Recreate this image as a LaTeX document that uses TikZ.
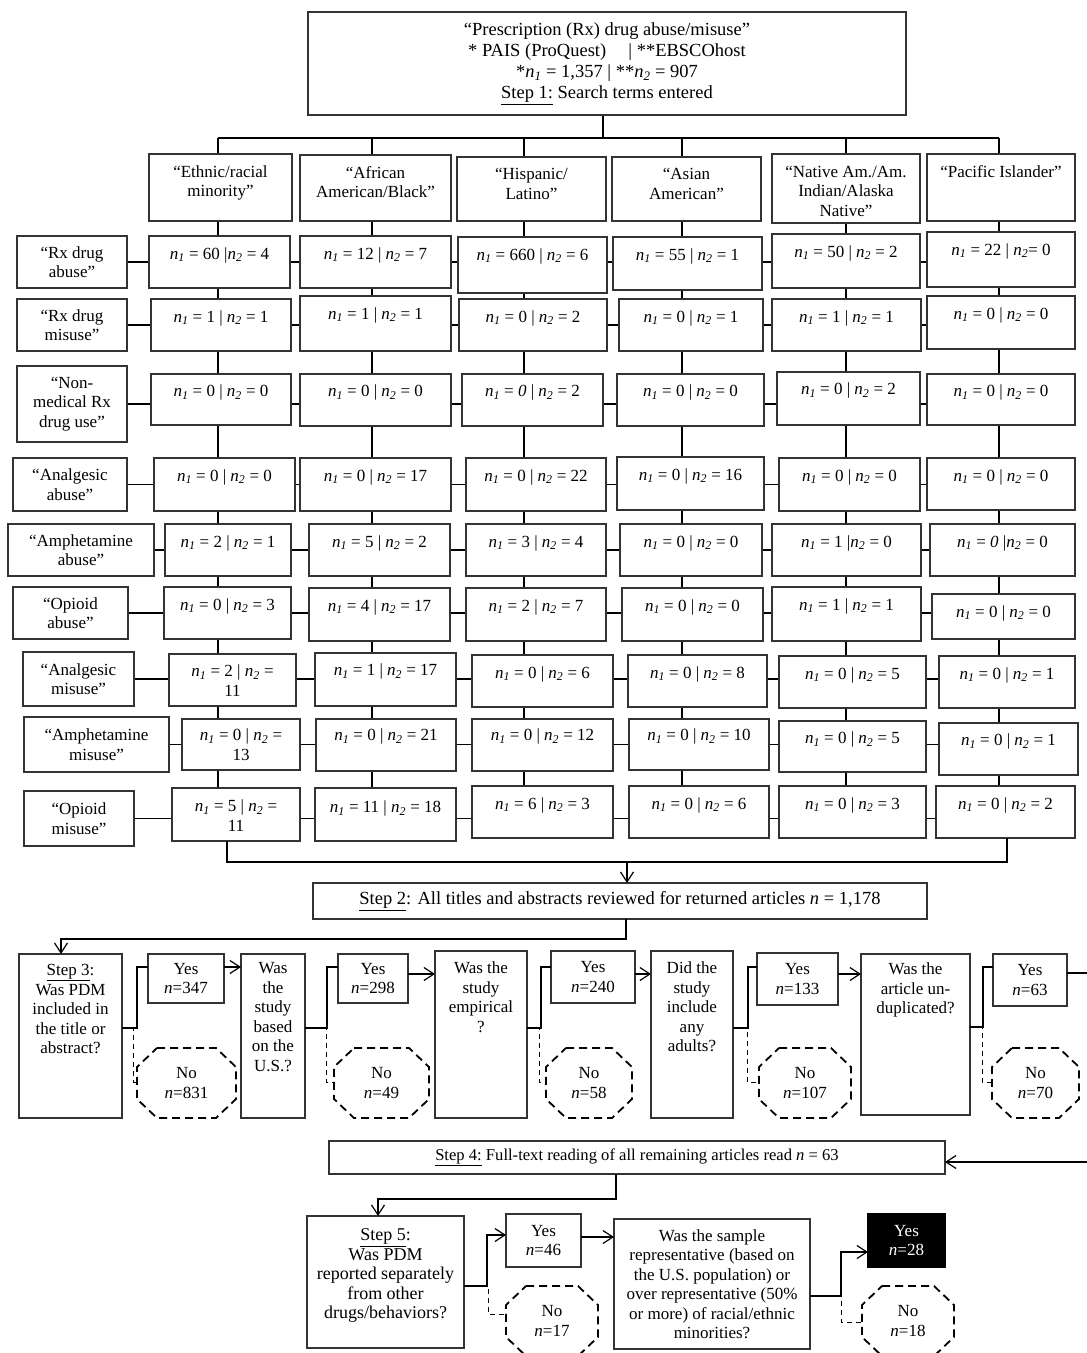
\documentclass[tikz,border=0pt]{standalone}
\usepackage{fontspec}
\setmainfont{Liberation Serif}
\usetikzlibrary{arrows.meta,calc,backgrounds}
\newcommand\nn[1]{\textit{n}\textsubscript{\textit{#1}}}
\newcommand\yn[1]{\textit{n}=#1}
\tikzset{
  bx/.style={draw=black!80, line width=1.1pt, fill=white, inner sep=0pt, outer sep=0pt, font=\fontsize{17}{19.5}\selectfont},
  ocnode/.style={inner sep=0pt, outer sep=0pt, font=\fontsize{17}{19.5}\selectfont},
  ln/.style={line width=1.2pt, draw=black},
  elb/.style={line width=1.8pt, draw=black},
  dl/.style={line width=1pt, dash pattern=on 5pt off 4pt},
  octl/.style={line width=1.8pt, dash pattern=on 8pt off 5pt},
  arr/.style={-{Straight Barb[length=10pt,width=13pt,line width=1.2pt]}},
}
% top-aligned box: [opts]{name}{x1}{y1}{x2}{y2}{pad}{text}
\newcommand\tbox[8][]{%
  \pgfmathsetlengthmacro\bw{(#5)-(#3)}%
  \pgfmathsetlengthmacro\bh{(#6)-(#4)}%
  \node[bx,anchor=north west,#1] (#2) at (#3,-#4) {\parbox[b][\bh][t]{\bw}{\centering\vspace*{#7pt}\strut#8\par}};}
% centred box: [opts]{name}{x1}{y1}{x2}{y2}{text}
\newcommand\cbox[7][]{%
  \pgfmathsetlengthmacro\bw{(#5)-(#3)}%
  \pgfmathsetlengthmacro\bh{(#6)-(#4)}%
  \node[bx,anchor=north west,#1] (#2) at (#3,-#4) {\parbox[b][\bh][c]{\bw}{\centering#7\par}};}
% dashed octagon: {name}{x1}{y1}{x2}{y2}{text}
\newcommand\octo[6]{%
  \pgfmathsetlengthmacro\bw{(#4)-(#2)}%
  \pgfmathsetlengthmacro\bh{(#5)-(#3)}%
  \node[ocnode,anchor=north west] (#1) at (#2,-#3) {\parbox[b][\bh][c]{\bw}{\centering#6\par}};
  \draw[octl] ($(#1.north west)+(20,0)$) -- ($(#1.north east)+(-20,0)$) -- ($(#1.north east)+(0,-19)$)
    -- ($(#1.south east)+(0,19)$) -- ($(#1.south east)+(-20,0)$) -- ($(#1.south west)+(20,0)$)
    -- ($(#1.south west)+(0,19)$) -- ($(#1.north west)+(0,-19)$) -- cycle;}
\begin{document}
\begin{tikzpicture}[x=1pt,y=1pt]
\useasboundingbox (0,0) rectangle (1087,-1353);
\clip (0,0) rectangle (1087,-1353);

% ---------- top ----------
\cbox[font=\fontsize{18.5}{21.3}\selectfont]{top}{308}{12}{906}{115}{“Prescription (Rx) drug abuse/misuse”\\{*} PAIS (ProQuest)\hspace{1.2em}| **EBSCOhost\\{*}\nn{1} = 1,357 | **\nn{2} = 907\\\underline{Step 1:} Search terms entered}

\coordinate (bus) at (603,-138);
\coordinate (col1) at (218,-138);
\coordinate (col2) at (372,-138);
\coordinate (col3) at (524,-138);
\coordinate (col4) at (682,-138);
\coordinate (col5) at (846,-138);
\coordinate (col6) at (999,-138);

% ---------- headers ----------
\tbox{h1}{149}{154}{292}{221}{9.5}{“Ethnic/racial\\minority”}
\tbox{h2}{300}{155}{451}{221}{9.5}{“African\\American/Black”}
\tbox{h3}{457}{157}{606}{221}{9}{“Hispanic/\\Latino”}
\tbox{h4}{612}{157}{761}{221}{9}{“Asian\\American”}
\tbox{h5}{772}{154}{920}{223}{9.5}{“Native Am./Am.\\Indian/Alaska\\Native”}
\tbox{h6}{927}{154}{1075}{221}{9.5}{“Pacific Islander”}

% ---------- row labels ----------
\cbox{r1l}{17}{236}{127}{288}{“Rx drug\\abuse”}
\cbox{r2l}{17}{299}{127}{351}{“Rx drug\\misuse”}
\cbox{r3l}{17}{366}{127}{442}{“Non-\\medical Rx\\drug use”}
\cbox{r4l}{13}{458}{127}{511}{“Analgesic\\abuse”}
\cbox{r5l}{8}{524}{154}{576}{“Amphetamine\\abuse”}
\cbox{r6l}{13}{587}{128}{639}{“Opioid\\abuse”}
\cbox{r7l}{23}{652}{134}{706}{“Analgesic\\misuse”}
\cbox{r8l}{24}{717}{169}{772}{“Amphetamine\\misuse”}
\cbox{r9l}{24}{791}{134}{846}{“Opioid\\misuse”}

% ---------- cells ----------
\tbox{r1c1}{149}{236}{290}{288}{9.5}{\nn{1} = 60 |\nn{2} = 4}
\tbox{r1c2}{300}{236}{451}{288}{9.5}{\nn{1} = 12 | \nn{2} = 7}
\tbox{r1c3}{458}{237}{607}{293}{9.5}{\nn{1} = 660 | \nn{2} = 6}
\tbox{r1c4}{613}{237}{762}{290}{9.5}{\nn{1} = 55 | \nn{2} = 1}
\tbox{r1c5}{772}{234}{920}{288}{9.5}{\nn{1} = 50 | \nn{2} = 2}
\tbox{r1c6}{927}{232}{1075}{287}{9.5}{\nn{1} = 22 | \nn{2}= 0}

\tbox{r2c1}{151}{299}{291}{351}{9.5}{\nn{1} = 1 | \nn{2} = 1}
\tbox{r2c2}{300}{296}{451}{351}{9.5}{\nn{1} = 1 | \nn{2} = 1}
\tbox{r2c3}{459}{299}{607}{351}{9.5}{\nn{1} = 0 | \nn{2} = 2}
\tbox{r2c4}{619}{299}{763}{351}{9.5}{\nn{1} = 0 | \nn{2} = 1}
\tbox{r2c5}{772}{299}{921}{351}{9.5}{\nn{1} = 1 | \nn{2} = 1}
\tbox{r2c6}{927}{296}{1075}{349}{9.5}{\nn{1} = 0 | \nn{2} = 0}

\tbox{r3c1}{151}{374}{291}{425}{9}{\nn{1} = 0 | \nn{2} = 0}
\tbox{r3c2}{300}{374}{451}{426}{9}{\nn{1} = 0 | \nn{2} = 0}
\tbox{r3c3}{462}{374}{603}{426}{9}{\nn{1} = \textit{0} | \nn{2} = 2}
\tbox{r3c4}{617}{374}{764}{426}{9}{\nn{1} = 0 | \nn{2} = 0}
\tbox{r3c5}{777}{372}{920}{425}{9}{\nn{1} = 0 | \nn{2} = 2}
\tbox{r3c6}{927}{374}{1075}{425}{9}{\nn{1} = 0 | \nn{2} = 0}

\tbox{r4c1}{154}{458}{295}{511}{9.5}{\nn{1} = 0 | \nn{2} = 0}
\tbox{r4c2}{300}{458}{451}{511}{9.5}{\nn{1} = 0 | \nn{2} = 17}
\tbox{r4c3}{466}{458}{606}{511}{9.5}{\nn{1} = 0 | \nn{2} = 22}
\tbox{r4c4}{617}{457}{764}{510}{9.5}{\nn{1} = 0 | \nn{2} = 16}
\tbox{r4c5}{779}{458}{920}{511}{9.5}{\nn{1} = 0 | \nn{2} = 0}
\tbox{r4c6}{927}{458}{1075}{510}{9.5}{\nn{1} = 0 | \nn{2} = 0}

\tbox{r5c1}{165}{524}{291}{576}{9.5}{\nn{1} = 2 | \nn{2} = 1}
\tbox{r5c2}{309}{524}{450}{576}{9.5}{\nn{1} = 5 | \nn{2} = 2}
\tbox{r5c3}{466}{524}{606}{576}{9.5}{\nn{1} = 3 | \nn{2} = 4}
\tbox{r5c4}{620}{524}{762}{576}{9.5}{\nn{1} = 0 | \nn{2} = 0}
\tbox{r5c5}{772}{524}{921}{576}{9.5}{\nn{1} = 1 |\nn{2} = 0}
\tbox{r5c6}{930}{524}{1075}{576}{9.5}{\nn{1} = \textit{0} |\nn{2} = 0}

\tbox{r6c1}{164}{587}{291}{639}{9.5}{\nn{1} = 0 | \nn{2} = 3}
\tbox{r6c2}{309}{588}{450}{641}{9.5}{\nn{1} = 4 | \nn{2} = 17}
\tbox{r6c3}{466}{588}{606}{641}{9.5}{\nn{1} = 2 | \nn{2} = 7}
\tbox{r6c4}{622}{588}{763}{641}{9.5}{\nn{1} = 0 | \nn{2} = 0}
\tbox{r6c5}{772}{587}{921}{641}{9.5}{\nn{1} = 1 | \nn{2} = 1}
\tbox{r6c6}{932}{594}{1075}{639}{9.5}{\nn{1} = 0 | \nn{2} = 0}

\tbox{r7c1}{169}{654}{296}{706}{9}{\nn{1} = 2 | \nn{2} =\\11}
\tbox{r7c2}{315}{653}{456}{706}{9}{\nn{1} = 1 | \nn{2} = 17}
\tbox{r7c3}{472}{655}{613}{707}{9.5}{\nn{1} = 0 | \nn{2} = 6}
\tbox{r7c4}{628}{655}{767}{707}{9.5}{\nn{1} = 0 | \nn{2} = 8}
\tbox{r7c5}{779}{656}{926}{708}{9.5}{\nn{1} = 0 | \nn{2} = 5}
\tbox{r7c6}{939}{656}{1075}{708}{9.5}{\nn{1} = 0 | \nn{2} = 1}

\tbox{r8c1}{182}{719}{300}{770}{8}{\nn{1} = 0 | \nn{2} =\\13}
\tbox{r8c2}{316}{719}{456}{771}{8}{\nn{1} = 0 | \nn{2} = 21}
\tbox{r8c3}{472}{719}{613}{771}{8}{\nn{1} = 0 | \nn{2} = 12}
\tbox{r8c4}{629}{719}{769}{770}{8}{\nn{1} = 0 | \nn{2} = 10}
\tbox{r8c5}{779}{721}{926}{772}{9}{\nn{1} = 0 | \nn{2} = 5}
\tbox{r8c6}{939}{723}{1078}{775}{9}{\nn{1} = 0 | \nn{2} = 1}

\tbox{r9c1}{172}{788}{300}{841}{10}{\nn{1} = 5 | \nn{2} =\\11}
\tbox{r9c2}{315}{788}{456}{841}{11}{\nn{1} = 11 | \nn{2} = 18}
\tbox{r9c3}{472}{786}{613}{838}{9.5}{\nn{1} = 6 | \nn{2} = 3}
\tbox{r9c4}{629}{786}{769}{838}{9.5}{\nn{1} = 0 | \nn{2} = 6}
\tbox{r9c5}{779}{786}{926}{838}{9.5}{\nn{1} = 0 | \nn{2} = 3}
\tbox{r9c6}{936}{786}{1075}{838}{9.5}{\nn{1} = 0 | \nn{2} = 2}

\begin{pgfonlayer}{background}
  \fill[white] (0,0) rectangle (1087,-1353);
  \draw[ln] (top.south -| bus) -- (bus);
  \draw[ln] (col1) -- (col6);
  \foreach \k in {1,...,6} {
    \draw[ln] (col\k) -- (col\k |- r9c\k.north);
  }
  \foreach \r in {1,...,9} {
    \draw[ln] (r\r l.east) -- (r\r l.east -| r\r c6.west);
  }
\end{pgfonlayer}

% ---------- bracket to step 2 ----------
\coordinate (bl) at (227,-862);
\coordinate (br) at (1007,-862);
\coordinate (bm) at (627,-862);
\draw[ln] (r9c1.south -| bl) -- (bl) -- (br) -- (r9c6.south -| br);

\cbox[font=\fontsize{18.5}{21}\selectfont]{s2}{313}{883}{927}{919}{\underline{Step 2}: All titles and abstracts reviewed for returned articles \textit{n} = 1,178}
\draw[ln,arr] (bm) -- (bm |- s2.north);

% ---------- step 3 row ----------
\tbox{s3}{19}{954}{122}{1118}{8}{\underline{Step 3}:\\Was PDM\\included in\\the title or\\abstract?}
\cbox{y1}{148}{954}{224}{1003}{Yes\\\yn{347}}
\tbox{d2}{241}{954}{305}{1118}{6}{Was\\the\\study\\based\\on the\\U.S.?}
\octo{n1}{137}{1048}{236}{1118}{No\\\yn{831}}
\cbox{y2}{338}{954}{408}{1003}{Yes\\\yn{298}}
\tbox{d3}{435}{951}{527}{1118}{9}{Was the\\study\\empirical\\?}
\octo{n2}{334}{1048}{429}{1118}{No\\\yn{49}}
\cbox{y3}{551}{951}{635}{1003}{Yes\\\yn{240}}
\tbox{d4}{651}{951}{733}{1118}{9}{Did the\\study\\include\\any\\adults?}
\octo{n3}{546}{1048}{632}{1118}{No\\\yn{58}}
\cbox{y4}{757}{953}{838}{1005}{Yes\\\yn{133}}
\tbox{d5}{861}{954}{970}{1115}{7}{Was the\\article un-\\duplicated?}
\octo{n4}{759}{1048}{851}{1118}{No\\\yn{107}}
\cbox{y5}{993}{954}{1067}{1006}{Yes\\\yn{63}}
\octo{n5}{992}{1048}{1079}{1118}{No\\\yn{70}}

\coordinate (s2o) at (626,-939);
\coordinate (s3i) at (61,-939);
\draw[ln,arr] (s2.south -| s2o) -- (s2o) -- (s3i) -- (s3i |- s3.north);

\draw[dl] (s3.east |- 0,-1028) -| (133,-1082) -- (n1.west |- 0,-1082);
\draw[elb] (s3.east |- 0,-1028) -- (137,-1028) |- (y1.west |- 0,-967);
\draw[ln,arr] (y1.east |- 0,-967) -- (d2.west |- 0,-967);

\draw[dl] (d2.east |- 0,-1028) -| (326,-1082) -- (n2.west |- 0,-1082);
\draw[elb] (d2.east |- 0,-1028) -- (327,-1028) |- (y2.west |- 0,-967);
\draw[ln,arr] (y2.east |- 0,-974) -- (d3.west |- 0,-974);

\draw[dl] (d3.east |- 0,-1028) -| (539,-1082) -- (n3.west |- 0,-1082);
\draw[elb] (d3.east |- 0,-1028) -- (541,-1028) |- (y3.west |- 0,-967);
\draw[ln,arr] (y3.east |- 0,-974) -- (d4.west |- 0,-974);

\draw[dl] (d4.east |- 0,-1028) -| (747,-1082) -- (n4.west |- 0,-1082);
\draw[elb] (d4.east |- 0,-1028) -- (748,-1028) |- (y4.west |- 0,-967);
\draw[ln,arr] (y4.east |- 0,-974) -- (d5.west |- 0,-974);

\draw[dl] (d5.east |- 0,-1027) -| (982,-1082) -- (n5.west |- 0,-1082);
\draw[elb] (d5.east |- 0,-1027) -- (983,-1027) |- (y5.west |- 0,-967);

% ---------- step 4 ----------
\cbox[font=\fontsize{16.6}{19}\selectfont]{s4}{329}{1141}{945}{1174}{\underline{Step 4:} Full-text reading of all remaining articles read \textit{n} = 63}
\draw[ln,arr] (y5.east |- 0,-973) -- (1094,-973) |- (s4.east |- 0,-1162);

% ---------- step 5 ----------
\tbox[font=\fontsize{18}{19.5}\selectfont]{s5}{307}{1216}{464}{1348}{11}{\underline{Step 5}:\\Was PDM\\reported separately\\from other\\drugs/behaviors?}
\cbox{y6}{506}{1214}{581}{1267}{Yes\\\yn{46}}
\octo{n6}{506}{1286}{598}{1356}{No\\\yn{17}}
\cbox{smp}{614}{1219}{810}{1349}{Was the sample\\representative (based on\\the U.S. population) or\\over representative (50\%\\or more) of racial/ethnic\\minorities?}
\cbox[fill=black,draw=black,text=white]{y7}{868}{1214}{945}{1267}{Yes\\\yn{28}}
\octo{n7}{862}{1286}{954}{1356}{No\\\yn{18}}

\coordinate (s4o) at (616,-1199);
\coordinate (s5i) at (378,-1199);
\draw[ln,arr] (s4.south -| s4o) -- (s4o) -- (s5i) -- (s5i |- s5.north);

\draw[dl] (s5.east |- 0,-1286) -| (488,-1314) -- (n6.west |- 0,-1314);
\draw[elb,arr] (s5.east |- 0,-1286) -- (487,-1286) |- (y6.west |- 0,-1235);
\draw[ln,arr] (y6.east |- 0,-1237) -- (smp.west |- 0,-1237);

\draw[dl] (smp.east |- 0,-1296) -| (841,-1322) -- (n7.west |- 0,-1322);
\draw[elb,arr] (smp.east |- 0,-1296) -- (841,-1296) |- (y7.west |- 0,-1252);
\end{tikzpicture}
\end{document}
